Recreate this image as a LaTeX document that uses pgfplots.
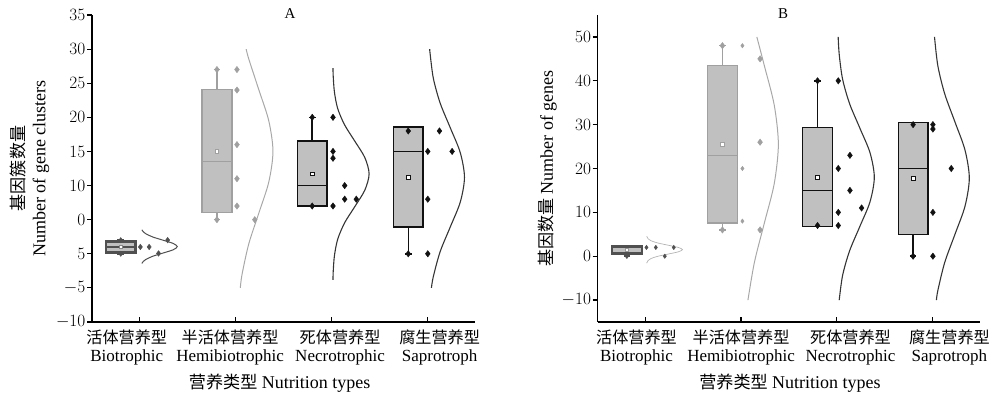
\documentclass[border=0pt]{standalone}
\usepackage[no-math]{fontspec}
\setmainfont{Liberation Serif}
\newfontfamily\cjk[Scale=0.95]{Noto Sans CJK SC}
\usepackage{pgfplots}
\pgfplotsset{compat=1.18}
\usepgfplotslibrary{statistics}
\definecolor{boxfill}{HTML}{C0C0C0}
\definecolor{cA}{HTML}{505050}
\definecolor{cB}{HTML}{A0A0A0}
\definecolor{cC}{HTML}{111111}
\definecolor{curveB}{HTML}{A8A8A8}
\definecolor{curveLight}{HTML}{B4B4B4}
\pgfplotsset{
  boxplot/every median/.append style={line width=1.5pt},
  boxplot/every whisker/.append style={line width=1.5pt},
  panel/.style={
    scale only axis, width=383pt, height=307pt,
    axis x line*=bottom, axis y line*=left,
    axis line style={line width=1.3pt, black},
    xmin=0.5, xmax=4.5,
    xtick={1,2,3,4},
    xticklabels={{},{},{},{}},
    extra x tick labels={{{\cjk 活体营养型}\\Biotrophic},{{\cjk 半活体营养型}\\Hemibiotrophic},{{\cjk 死体营养型}\\Necrotrophic},{{\cjk 腐生营养型}\\Saprotroph}},
    extra x tick style={major tick length=0pt, xticklabel style={yshift=-7pt}},
    xticklabel style={align=center, font=\fontsize{17}{18}\selectfont, inner sep=1pt},
    yticklabel style={font=\fontsize{16}{17}\selectfont, inner sep=1.5pt},
    major tick length=5pt,
    tick align=outside,
    major x tick style={yshift=5pt},
    every tick/.style={black, line width=1.2pt},
    clip=false,
    boxplot/draw direction=y,
    xlabel={{\cjk 营养类型}\ Nutrition types},
    xlabel style={at={(axis description cs:0.49,-0.199)}, anchor=center, font=\fontsize{18}{20}\selectfont},
    title style={anchor=center, font=\fontsize{15}{16}\selectfont},
  },
  pts/.style={only marks, mark=diamond*, mark size=3.2pt},
  mn/.style={only marks, mark=square*, mark size=1.9pt, mark options={fill=white, line width=0.8pt}},
}
\begin{document}
\begin{tikzpicture}
\useasboundingbox (0,0) rectangle (992pt,396pt);
% ---------------- Panel A ----------------
\begin{axis}[panel, at={(92pt,74pt)}, anchor=south west,
  ymin=-10, ymax=35,
  extra x ticks={0.863,1.942,3.091,4.131},
  ytick={-10,-5,0,5,10,15,20,25,30,35},
  yticklabels={$-10$,$-5$,$5$,$0$,$10$,$15$,$20$,$25$,$30$,$35$},
  ylabel={{\cjk 基因簇数量}\\Number of gene clusters},
  ylabel style={at={(axis description cs:-0.163,0.5)}, anchor=center, align=center, font=\fontsize{18}{21}\selectfont},
  title={A}, title style={at={(axis description cs:0.517,0.984)}},
]
% Biotrophic
\addplot[cA, line width=2.2pt, boxplot prepared={draw position=0.8, lower whisker=0, lower quartile=0.2, median=1, upper quartile=1.8, upper whisker=2, box extend=0.31, whisker extend=0.07}, boxplot/every box/.style={fill=boxfill}] coordinates {};
\addplot[pts, cA, mark size=2.6pt] coordinates {(0.8,0) (0.8,2)};
\addplot[mn, cA!70, mark size=1.5pt] coordinates {(0.8,1)};
\addplot[pts, cA, mark size=2.8pt] coordinates {(1.005,1) (1.097,1) (1.195,0.05) (1.29,2)};
\addplot[cA, line width=1pt, smooth] coordinates {(1.021,-1.42) (1.035,-1.135) (1.060,-0.85) (1.132,-0.375) (1.240,0.1) (1.346,0.575) (1.391,1.05) (1.346,1.525) (1.240,2.0) (1.132,2.475) (1.060,2.95) (1.035,3.235) (1.021,3.52)};
% Hemibiotrophic
\addplot[cB, line width=1.5pt, boxplot prepared={draw position=1.805, lower whisker=5, lower quartile=6.06, median=13.5, upper quartile=24.1, upper whisker=27, box extend=0.31, whisker extend=0.07}, boxplot/every box/.style={fill=boxfill}] coordinates {};
\addplot[pts, cB] coordinates {(1.805,27) (1.805,5)};
\addplot[mn, cB] coordinates {(1.805,15)};
\addplot[pts, cB] coordinates {(2.014,27) (2.014,24) (2.014,16) (2.014,11) (2.014,7) (2.2,5)};
\addplot[curveB, line width=1pt, smooth] coordinates {(2.049,-5) (2.067,-3.02) (2.138,1.49) (2.243,5.99) (2.346,10.5) (2.390,15) (2.346,19.5) (2.243,24.01) (2.138,28.52) (2.110,30)};
% Necrotrophic
\addplot[cC, line width=1.5pt, boxplot prepared={draw position=2.8, lower whisker=7, lower quartile=7, median=10, upper quartile=16.55, upper whisker=20, box extend=0.31, whisker extend=0.07}, boxplot/every box/.style={fill=boxfill}] coordinates {};
\addplot[pts, cC] coordinates {(2.8,20) (2.8,7)};
\addplot[mn, cC] coordinates {(2.8,11.71)};
\addplot[pts, cC] coordinates {(3.017,20) (3.017,15) (3.017,14) (3.017,7) (3.139,10) (3.139,8) (3.26,8)};
\addplot[cC!85, line width=1.1pt, smooth] coordinates {(3.017,-3.81) (3.019,-2.66) (3.032,-0.27) (3.066,2.13) (3.138,4.53) (3.245,6.92) (3.349,9.32) (3.394,11.71) (3.349,14.11) (3.245,16.5) (3.138,18.9) (3.066,21.29) (3.032,23.69) (3.019,26.08) (3.017,27.23)};
% Saprotroph
\addplot[cC, line width=1.5pt, boxplot prepared={draw position=3.803, lower whisker=0, lower quartile=3.9, median=15, upper quartile=18.55, upper whisker=18, box extend=0.31, whisker extend=0.07}, boxplot/every box/.style={fill=boxfill}] coordinates {};
\addplot[pts, cC] coordinates {(3.803,18) (3.803,0)};
\addplot[mn, cC] coordinates {(3.803,11.2)};
\addplot[pts, cC] coordinates {(4.007,15) (4.007,8) (4.007,0) (4.129,18) (4.261,15)};
\addplot[cC!85, line width=1.1pt, smooth] coordinates {(4.045,-4.99) (4.065,-3.32) (4.136,0.31) (4.242,3.94) (4.346,7.57) (4.390,11.2) (4.346,14.83) (4.242,18.46) (4.136,22.09) (4.065,25.72) (4.031,29.35) (4.027,30)};
\end{axis}
% ---------------- Panel B ----------------
\begin{axis}[panel, at={(597.7pt,74pt)}, anchor=south west, width=382.3pt,
  ymin=-15, ymax=55,
  extra x ticks={0.906,2.0,3.145,4.18},
  ytick={-10,0,10,20,30,40,50},
  ylabel={{\cjk 基因数量}\ Number of genes},
  ylabel style={at={(axis description cs:-0.131,0.5)}, anchor=center, font=\fontsize{18}{21}\selectfont},
  xlabel style={at={(axis description cs:0.503,-0.199)}},
  title={B}, title style={at={(axis description cs:0.485,0.984)}},
]
% Biotrophic
\addplot[cA, line width=2.2pt, boxplot prepared={draw position=0.805, lower whisker=0, lower quartile=0.6, median=2, upper quartile=2.4, upper whisker=2.4, box extend=0.31, whisker extend=0.07}, boxplot/every box/.style={fill=boxfill}] coordinates {};
\addplot[pts, cA, mark size=2.4pt] coordinates {(0.805,0)};
\addplot[mn, cA!60, mark size=1.5pt] coordinates {(0.805,1.5)};
\addplot[pts, cA, mark size=2.2pt] coordinates {(1.01,2) (1.108,2) (1.202,0) (1.296,2)};
\addplot[curveLight, line width=0.7pt, smooth] coordinates {(1.013,-1.6) (1.014,-1.5) (1.027,-1) (1.061,-0.5) (1.132,0) (1.239,0.5) (1.343,1) (1.387,1.5) (1.343,2) (1.239,2.5) (1.132,3) (1.061,3.5) (1.027,4) (1.016,4.4) (1.014,4.6)};
% Hemibiotrophic
\addplot[cB, line width=1.5pt, boxplot prepared={draw position=1.805, lower whisker=6, lower quartile=7.6, median=23, upper quartile=43.5, upper whisker=48, box extend=0.31, whisker extend=0.07}, boxplot/every box/.style={fill=boxfill}] coordinates {};
\addplot[pts, cB] coordinates {(1.805,48) (1.805,6)};
\addplot[mn, cB] coordinates {(1.805,25.5)};
\addplot[pts, cB, mark size=2.2pt] coordinates {(2.014,48) (2.014,20) (2.014,8)};
\addplot[pts, cB] coordinates {(2.199,45) (2.199,26) (2.199,6)};
\addplot[curveB, line width=1pt, smooth] coordinates {(2.072,-10) (2.140,-1.35) (2.244,7.6) (2.347,16.55) (2.390,25.5) (2.347,34.45) (2.244,43.4) (2.165,50)};
% Necrotrophic
\addplot[cC, line width=1.5pt, boxplot prepared={draw position=2.8, lower whisker=7, lower quartile=6.8, median=15, upper quartile=29.3, upper whisker=40, box extend=0.31, whisker extend=0.07}, boxplot/every box/.style={fill=boxfill}] coordinates {};
\addplot[pts, cC] coordinates {(2.8,40) (2.8,7)};
\addplot[mn, cC] coordinates {(2.8,18)};
\addplot[pts, cC] coordinates {(3.017,40) (3.017,20) (3.017,10) (3.017,7) (3.139,23) (3.139,15) (3.261,11)};
\addplot[cC!85, line width=1.1pt, smooth] coordinates {(3.027,-10) (3.062,-4.4) (3.135,1.2) (3.243,6.8) (3.349,12.4) (3.394,18) (3.349,23.6) (3.243,29.2) (3.135,34.8) (3.062,40.4) (3.027,46) (3.016,50)};
% Saprotroph
\addplot[cC, line width=1.5pt, boxplot prepared={draw position=3.8, lower whisker=0, lower quartile=4.9, median=20, upper quartile=30.5, upper whisker=30, box extend=0.31, whisker extend=0.07}, boxplot/every box/.style={fill=boxfill}] coordinates {};
\addplot[pts, cC] coordinates {(3.8,30) (3.8,0)};
\addplot[mn, cC] coordinates {(3.8,17.8)};
\addplot[pts, cC] coordinates {(4.007,30) (4.007,29) (4.007,10) (4.007,0) (4.199,20)};
\addplot[cC!85, line width=1.1pt, smooth] coordinates {(4.044,-10) (4.059,-7.8) (4.131,-1.4) (4.238,5.0) (4.343,11.4) (4.388,17.8) (4.343,24.2) (4.238,30.6) (4.131,37.0) (4.059,43.4) (4.024,50)};
\end{axis}
\end{tikzpicture}
\end{document}
